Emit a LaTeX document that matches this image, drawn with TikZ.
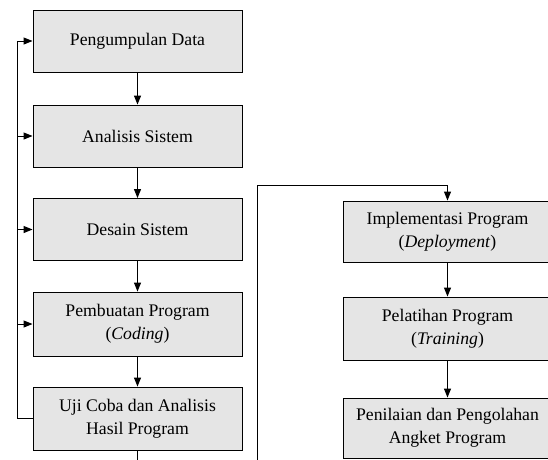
\documentclass[tikz,border=0pt]{standalone}
\usepackage{fontspec}
\setmainfont{Liberation Serif}
\usetikzlibrary{arrows.meta}
\tikzset{
    tahap/.style={draw=black, fill=gray!20, line width=0.9pt, minimum width=209pt,
        minimum height=62pt, align=center, inner sep=2pt,
        font=\fontsize{17.7}{23}\selectfont},
    alur/.style={line width=1pt, -{Triangle[length=9pt, width=7pt]}}
}
\begin{document}
\begin{tikzpicture}[x=1pt, y=-1pt]
    \useasboundingbox (0,0) rectangle (548,459);
    \clip (0,0) rectangle (548,459);
    % Kolom kiri
    \node[tahap] (kumpul) at (137.5, 41) {Pengumpulan Data};
    \node[tahap] (analisis) at (137.5, 136) {Analisis Sistem};
    \node[tahap] (desain) at (137.5, 229.5) {Desain Sistem};
    \node[tahap, minimum height=64pt] (coding) at (137.5, 324) {Pembuatan Program\\(\textit{Coding})};
    \node[tahap, minimum height=63pt] (uji) at (137.5, 418.5) {Uji Coba dan Analisis\\Hasil Program};
    % Kolom kanan
    \node[tahap, minimum height=61pt] (deploy) at (447.5, 231.5) {Implementasi Program\\(\textit{Deployment})};
    \node[tahap, minimum height=63pt] (latih) at (447.5, 328.5) {Pelatihan Program\\(\textit{Training})};
    \node[tahap, minimum height=60pt] (nilai) at (447.5, 428) {Penilaian dan Pengolahan\\Angket Program};
    % Alur utama
    \draw[alur] (kumpul) -- (analisis);
    \draw[alur] (analisis) -- (desain);
    \draw[alur] (desain) -- (coding);
    \draw[alur] (coding) -- (uji);
    \coordinate (bawah) at (137.5, 470);
    \draw[line width=1pt] (uji.south) -- (bawah);
    % Umpan balik
    \coordinate (balik) at (17, 418.5);
    \draw[alur] (uji.west) -- (balik) |- (kumpul.west);
    \draw[alur] (balik |- analisis.west) -- (analisis.west);
    \draw[alur] (balik |- desain.west) -- (desain.west);
    \draw[alur] (balik |- coding.west) -- (coding.west);
    % Sambungan ke kolom kanan
    \coordinate (naik) at (257, 470);
    \coordinate (sudut) at (257, 185);
    \draw[alur] (naik) -- (sudut) -| (deploy.north);
    \draw[alur] (deploy) -- (latih);
    \draw[alur] (latih) -- (nilai);
\end{tikzpicture}
\end{document}
